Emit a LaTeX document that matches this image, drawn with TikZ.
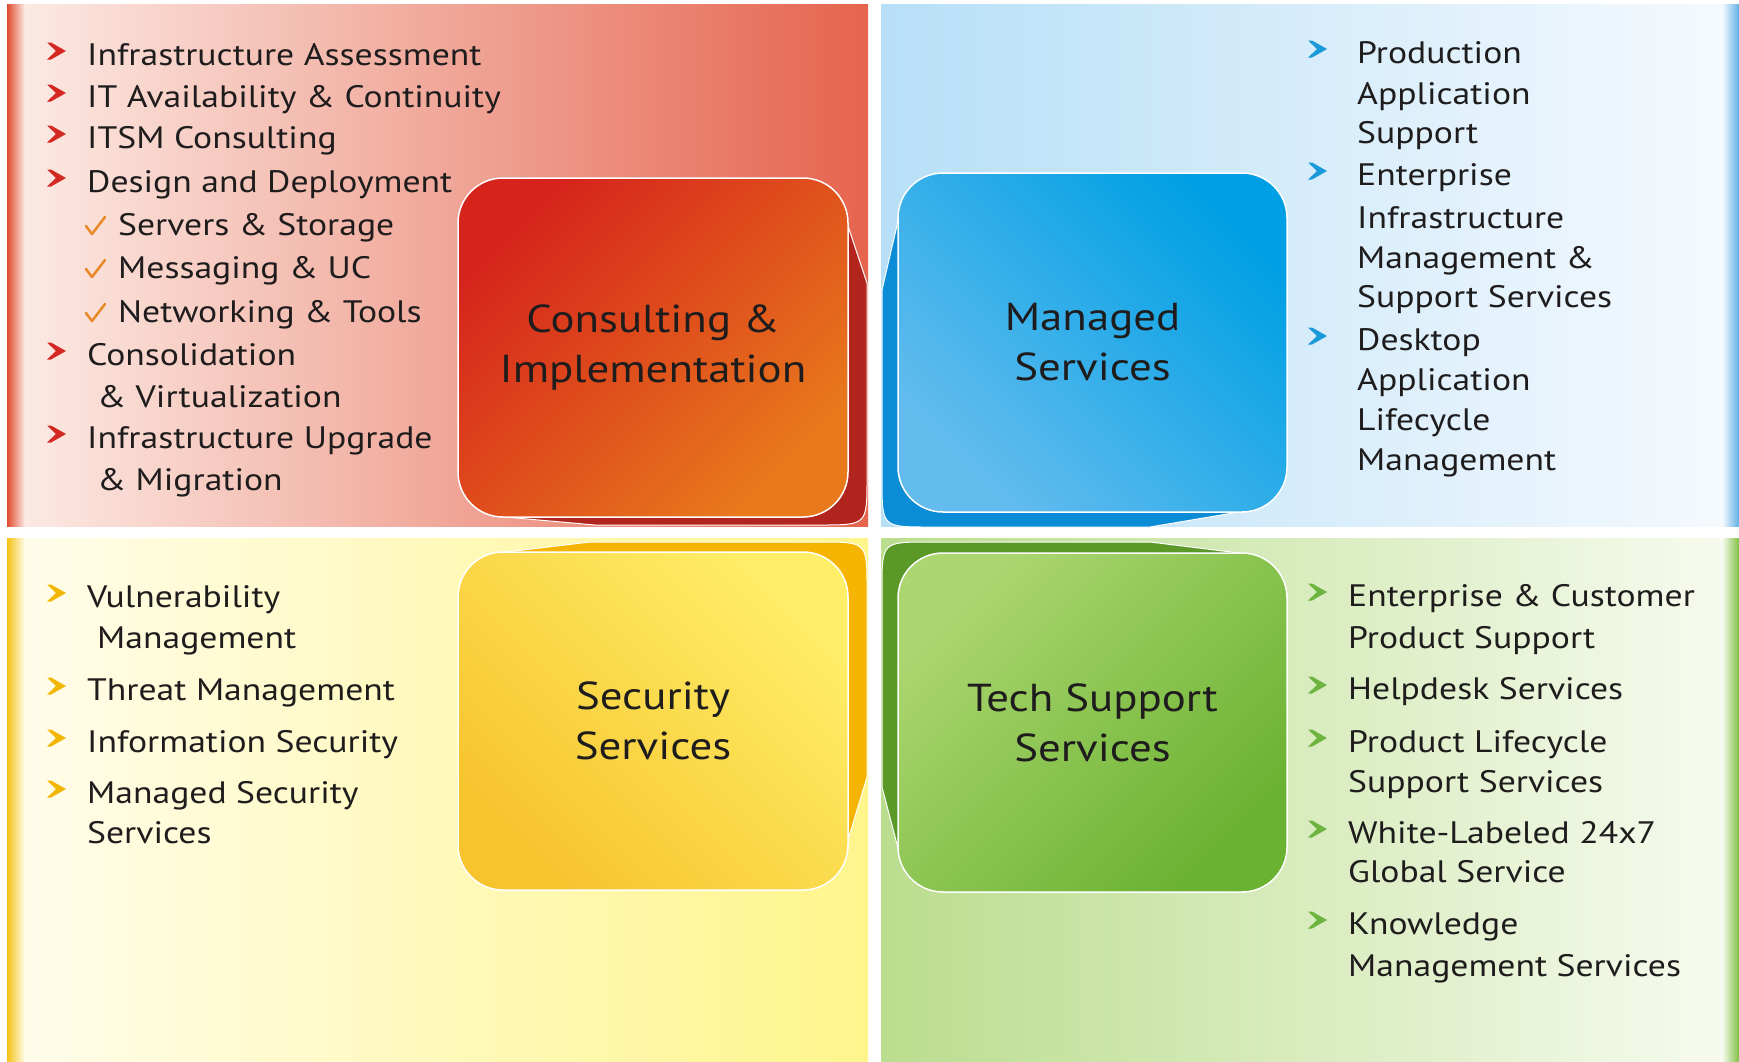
\documentclass[tikz,border=0pt]{standalone}
\usepackage{fontspec}
\setmainfont{PT Sans}[FakeStretch=1.15]
\usetikzlibrary{positioning}

\definecolor{textdark}{RGB}{30,28,28}
% consulting (red)
\definecolor{consultA}{RGB}{214,36,28}
\definecolor{consultB}{RGB}{232,122,28}
\definecolor{consultShadow}{RGB}{178,36,30}
\definecolor{consultBgL}{RGB}{252,236,230}
\definecolor{consultBgR}{RGB}{229,100,78}
\definecolor{consultStripe}{RGB}{224,76,46}
\definecolor{chevRed}{RGB}{212,40,34}
% managed (blue)
\definecolor{managedA}{RGB}{0,160,228}
\definecolor{managedB}{RGB}{100,188,238}
\definecolor{managedShadow}{RGB}{10,140,215}
\definecolor{managedBgL}{RGB}{183,223,247}
\definecolor{managedBgR}{RGB}{246,250,254}
\definecolor{managedStripe}{RGB}{96,176,232}
\definecolor{chevBlue}{RGB}{26,154,216}
% security (yellow)
\definecolor{securityA}{RGB}{255,238,104}
\definecolor{securityB}{RGB}{247,196,46}
\definecolor{securityShadow}{RGB}{245,180,0}
\definecolor{securityBgL}{RGB}{255,253,236}
\definecolor{securityBgR}{RGB}{255,245,140}
\definecolor{securityStripe}{RGB}{245,194,20}
\definecolor{chevYellow}{RGB}{242,183,5}
% tech support (green)
\definecolor{techA}{RGB}{172,214,112}
\definecolor{techB}{RGB}{106,178,50}
\definecolor{techShadow}{RGB}{90,152,40}
\definecolor{techBgL}{RGB}{186,221,142}
\definecolor{techBgR}{RGB}{248,251,240}
\definecolor{techStripe}{RGB}{128,192,66}
\definecolor{chevGreen}{RGB}{109,179,63}
\definecolor{checkOrange}{RGB}{232,137,40}

\newcommand{\chev}[2]{\fill[#1] #2 ++(0,-8.5) -- ++(4,0) -- ++(15,8.5) -- ++(-15,8.5) -- ++(-4,0) -- ++(9,-8.5) -- cycle;}

\begin{document}
\begin{tikzpicture}[x=1pt,y=-1pt,
  item/.style={anchor=base west,inner sep=0pt,text=textdark,font=\fontsize{31}{40}\selectfont},
  svcbox/.style={draw=white,line width=1.5pt,rounded corners=45pt,minimum width=390pt,minimum height=339pt,
    align=center,inner sep=0pt,text=textdark,font=\fontsize{39}{50}\selectfont},
  fold/.style={fill=#1,draw=white,line width=1pt},
  tick/.style={draw=checkOrange,line width=2.5pt,line cap=round,line join=round}]
\useasboundingbox (0,0) rectangle (1739,1061);
\fill[white] (0,0) rectangle (1739,1061);

% quadrants
\shade[left color=consultBgL,right color=consultBgR] (7,4) rectangle (868,526);
\shade[left color=consultStripe,right color=consultBgL] (7,4) rectangle (25,526);
\shade[left color=managedBgL,right color=managedBgR] (881,4) rectangle (1739,526);
\shade[left color=managedBgR,right color=managedStripe] (1722,4) rectangle (1739,526);
\shade[left color=securityBgL,right color=securityBgR] (7,538) rectangle (868,1061);
\shade[left color=securityStripe,right color=securityBgL] (7,538) rectangle (25,1061);
\shade[left color=techBgL,right color=techBgR] (881,538) rectangle (1739,1061);
\shade[left color=techBgR,right color=techStripe] (1722,538) rectangle (1739,1061);

% folds behind the boxes
\draw[fold=consultShadow] (848,226) -- (867,283) -- (867,478) .. controls (867,525) .. (820,525) -- (595,525) -- (505,517) -- cycle;
\draw[fold=managedShadow] (898,221) -- (882,290) -- (882,480) .. controls (882,527) .. (929,527) -- (1150,527) -- (1239,512) -- cycle;
\draw[fold=securityShadow] (506,552) -- (590,542) -- (820,542) .. controls (867,542) .. (867,589) -- (867,777) -- (848,840) -- cycle;
\draw[fold=techShadow] (1239,553) -- (1150,542) -- (929,542) .. controls (882,542) .. (882,589) -- (882,787) -- (898,848) -- cycle;

% boxes
\node[svcbox,top color=consultA,bottom color=consultB,shading angle=45] (consult) at (653,347.5) {Consulting \&\\Implementation};
\node[svcbox,top color=managedA,bottom color=managedB,shading angle=-45,minimum width=389pt] (managed) at (1092.5,342.5) {Managed\\Services};
\node[svcbox,top color=securityA,bottom color=securityB,shading angle=-45,minimum height=338pt] (security) at (653,721) {Security\\Services};
\node[svcbox,top color=techA,bottom color=techB,shading angle=45,minimum width=389pt] (techsup) at (1092.5,722.5) {Tech Support\\Services};

% consulting list
\chev{chevRed}{(47,51)}
\node[item] (ca1) at (87,65) {Infrastructure Assessment};
\chev{chevRed}{(47,93)}
\node[item] (ca2) at (87,107) {IT Availability \& Continuity};
\chev{chevRed}{(47,134)}
\node[item] (ca3) at (87,148) {ITSM Consulting};
\chev{chevRed}{(47,178)}
\node[item] (ca4) at (87,192) {Design and Deployment};
\draw[tick] (86,226) -- (92,234) -- (105,217);
\node[item] (cs1) at (118,235) {Servers \& Storage};
\draw[tick] (86,269) -- (92,277) -- (105,260);
\node[item] (cs2) at (118,278) {Messaging \& UC};
\draw[tick] (86,313) -- (92,321) -- (105,304);
\node[item] (cs3) at (118,322) {Networking \& Tools};
\chev{chevRed}{(47,351)}
\node[item] (ca5) at (87,365) {Consolidation};
\node[item] (ca5b) at (97,407) {\& Virtualization};
\chev{chevRed}{(47,434)}
\node[item] (ca6) at (87,448) {Infrastructure Upgrade};
\node[item] (ca6b) at (97,490) {\& Migration};

% managed list
\chev{chevBlue}{(1308,49)}
\node[item] (ma1) at (1357,63) {Production};
\node[item] (ma1b) at (1357,104) {Application};
\node[item] (ma1c) at (1357,143) {Support};
\chev{chevBlue}{(1308,171)}
\node[item] (ma2) at (1357,185) {Enterprise};
\node[item] (ma2b) at (1357,228) {Infrastructure};
\node[item] (ma2c) at (1357,268) {Management \&};
\node[item] (ma2d) at (1357,307) {Support Services};
\chev{chevBlue}{(1308,336)}
\node[item] (ma3) at (1357,350) {Desktop};
\node[item] (ma3b) at (1357,390) {Application};
\node[item] (ma3c) at (1357,430) {Lifecycle};
\node[item] (ma3d) at (1357,470) {Management};

% security list
\chev{chevYellow}{(47,593)}
\node[item] (sa1) at (87,607) {Vulnerability};
\node[item] (sa1b) at (97,648) {Management};
\chev{chevYellow}{(47,686)}
\node[item] (sa2) at (87,700) {Threat Management};
\chev{chevYellow}{(47,738)}
\node[item] (sa3) at (87,752) {Information Security};
\chev{chevYellow}{(47,789)}
\node[item] (sa4) at (87,803) {Managed Security};
\node[item] (sa4b) at (87,843) {Services};

% tech support list
\chev{chevGreen}{(1308,592)}
\node[item] (ta1) at (1348,606) {Enterprise \& Customer};
\node[item] (ta1b) at (1348,648) {Product Support};
\chev{chevGreen}{(1308,685)}
\node[item] (ta2) at (1348,699) {Helpdesk Services};
\chev{chevGreen}{(1308,738)}
\node[item] (ta3) at (1348,752) {Product Lifecycle};
\node[item] (ta3b) at (1348,792) {Support Services};
\chev{chevGreen}{(1308,829)}
\node[item] (ta4) at (1348,843) {White-Labeled 24x7};
\node[item] (ta4b) at (1348,882) {Global Service};
\chev{chevGreen}{(1308,920)}
\node[item] (ta5) at (1348,934) {Knowledge};
\node[item] (ta5b) at (1348,976) {Management Services};

\end{tikzpicture}
\end{document}
